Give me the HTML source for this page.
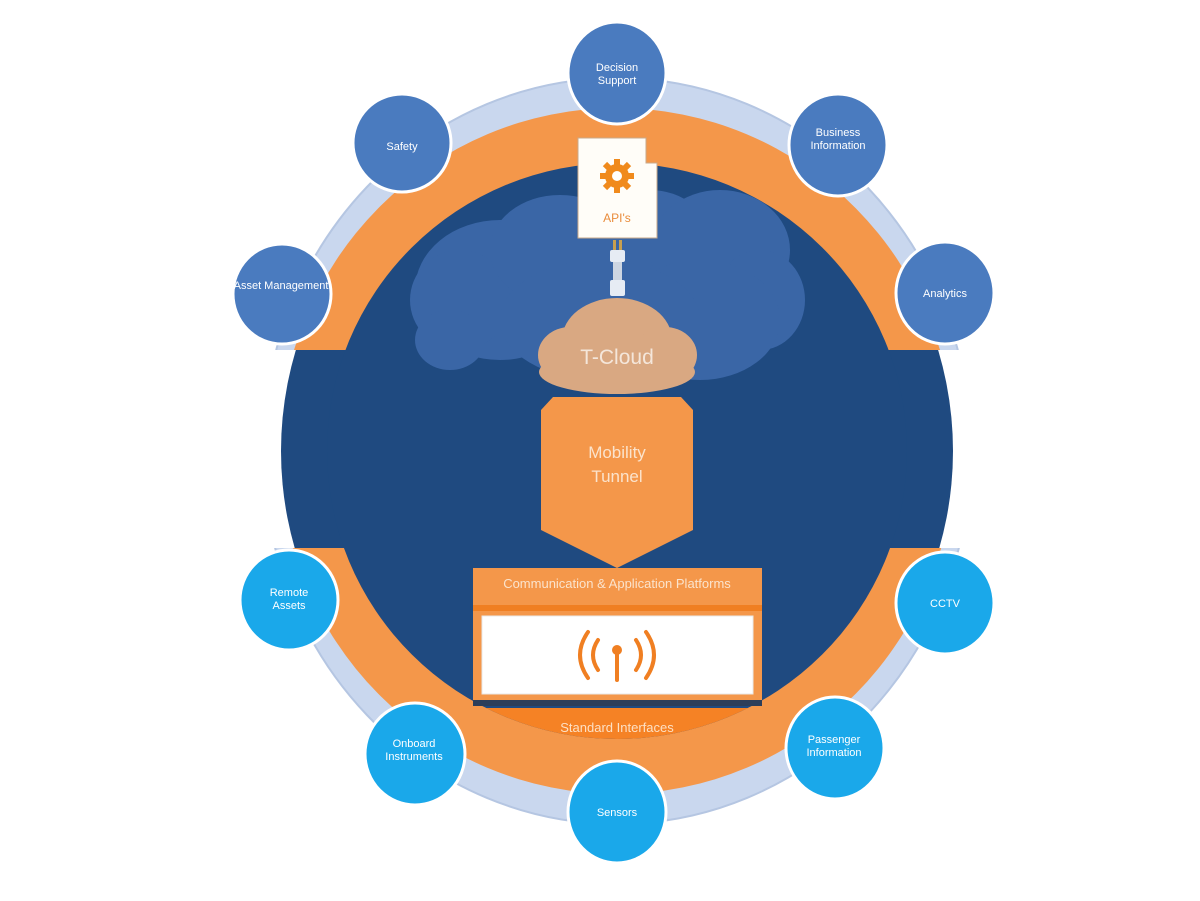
<!DOCTYPE html>
<html><head><meta charset="utf-8"><style>
html,body{margin:0;padding:0;background:#fff;}
svg{display:block;font-family:"Liberation Sans",sans-serif;}
</style></head><body>
<svg width="1200" height="901" viewBox="0 0 1200 901" xmlns="http://www.w3.org/2000/svg">
<defs>
<clipPath id="band"><rect x="0" y="350" width="1200" height="198"/></clipPath>
<clipPath id="bot"><rect x="0" y="708" width="1200" height="100"/></clipPath>
</defs>
<ellipse cx="617" cy="451" rx="354" ry="373" fill="#c9d7ee" stroke="#b5c6e2" stroke-width="2"/>
<ellipse cx="617" cy="451" rx="338" ry="343" fill="#f4974a"/>
<rect x="0" y="350" width="1200" height="198" fill="#fff"/>
<ellipse cx="617" cy="451" rx="336" ry="343" fill="#1f4a80" clip-path="url(#band)"/>
<ellipse cx="617" cy="451" rx="290" ry="288" fill="#1f4a80"/>
<ellipse cx="617" cy="451" rx="290" ry="288" fill="#f58225" clip-path="url(#bot)"/>
<g fill="#3a66a6">
<ellipse cx="500" cy="290" rx="85" ry="70"/>
<ellipse cx="460" cy="300" rx="50" ry="50"/>
<ellipse cx="560" cy="250" rx="70" ry="55"/>
<ellipse cx="650" cy="240" rx="60" ry="50"/>
<ellipse cx="720" cy="250" rx="70" ry="60"/>
<ellipse cx="760" cy="300" rx="45" ry="50"/>
<ellipse cx="700" cy="320" rx="80" ry="60"/>
<ellipse cx="600" cy="320" rx="100" ry="60"/>
<ellipse cx="450" cy="340" rx="35" ry="30"/>
</g>
<polygon points="553,397 681,397 693,410 693,530 617,568 541,530 541,410" fill="#f4974a"/>
<g fill="#d9a882">
<ellipse cx="617" cy="340" rx="55" ry="42"/>
<ellipse cx="570" cy="355" rx="32" ry="28"/>
<ellipse cx="665" cy="355" rx="32" ry="28"/>
<ellipse cx="617" cy="372" rx="78" ry="22"/>
</g>
<text x="617" y="364" text-anchor="middle" font-size="21" fill="#f4e6da">T-Cloud</text>
<text x="617" y="458" text-anchor="middle" font-size="17" fill="#fbe3cc">Mobility</text>
<text x="617" y="482" text-anchor="middle" font-size="17" fill="#fbe3cc">Tunnel</text>
<rect x="613" y="240" width="3" height="10" fill="#c8a050"/><rect x="619" y="240" width="3" height="10" fill="#c8a050"/>
<rect x="610" y="250" width="15" height="12" rx="2" fill="#e6ecf4"/>
<rect x="613" y="262" width="9" height="20" fill="#cdd6e2"/>
<rect x="610" y="280" width="15" height="16" rx="2" fill="#e6ecf4"/>
<polygon points="578,138 646,138 646,163 657,163 657,238 578,238" fill="#fffdf8" stroke="#c9a98a" stroke-width="1"/>
<g transform="translate(617,176)" fill="#f08a1c">
<circle r="12"/>
<g><rect x="-3" y="-17" width="6" height="34"/><rect x="-17" y="-3" width="34" height="6"/>
<rect x="-3" y="-17" width="6" height="34" transform="rotate(45)"/><rect x="-3" y="-17" width="6" height="34" transform="rotate(-45)"/></g>
<circle r="5" fill="#fff"/>
</g>
<text x="617" y="222" text-anchor="middle" font-size="12" fill="#e98c3c">API's</text>
<rect x="473" y="568" width="289" height="137" fill="#f4974a"/>
<rect x="473" y="605" width="289" height="6" fill="#f07f22"/>
<rect x="482" y="616" width="271" height="78" fill="#fff" stroke="#e8e8e8"/>
<rect x="473" y="700" width="289" height="6" fill="#2c3e5a"/>
<text x="617" y="588" text-anchor="middle" font-size="13" fill="#fbe3cc">Communication &amp; Application Platforms</text>
<g stroke="#f07f22" stroke-width="4" fill="none" stroke-linecap="round">
<path d="M598,640 Q588,655 598,670"/><path d="M588,632 Q572,655 588,678"/>
<path d="M636,640 Q646,655 636,670"/><path d="M646,632 Q662,655 646,678"/>
<line x1="617" y1="652" x2="617" y2="680"/>
</g>
<circle cx="617" cy="650" r="5" fill="#f07f22"/>
<text x="617" y="732" text-anchor="middle" font-size="13" fill="#fde0c4">Standard Interfaces</text>
<g fill="#4a7bbf" stroke="#fff" stroke-width="3">
<ellipse cx="617" cy="73" rx="49" ry="51"/>
<ellipse cx="402" cy="143" rx="49" ry="49"/>
<ellipse cx="838" cy="145" rx="49" ry="51"/>
<ellipse cx="282" cy="294" rx="49" ry="50"/>
<ellipse cx="945" cy="293" rx="49" ry="51"/>
</g>
<g fill="#1aa8ea" stroke="#fff" stroke-width="3">
<ellipse cx="289" cy="600" rx="49" ry="50"/>
<ellipse cx="945" cy="603" rx="49" ry="51"/>
<ellipse cx="415" cy="754" rx="50" ry="51"/>
<ellipse cx="835" cy="748" rx="49" ry="51"/>
<ellipse cx="617" cy="812" rx="49" ry="51"/>
</g>
<g fill="#fff" font-size="11" text-anchor="middle">
<text x="617" y="71">Decision</text><text x="617" y="84">Support</text>
<text x="402" y="150">Safety</text>
<text x="838" y="136">Business</text><text x="838" y="149">Information</text>
<text x="281" y="289">Asset Management</text>
<text x="945" y="297">Analytics</text>
<text x="289" y="596">Remote</text><text x="289" y="609">Assets</text>
<text x="945" y="607">CCTV</text>
<text x="414" y="747">Onboard</text><text x="414" y="760">Instruments</text>
<text x="834" y="743">Passenger</text><text x="834" y="756">Information</text>
<text x="617" y="816">Sensors</text>
</g>
</svg>
</body></html>
